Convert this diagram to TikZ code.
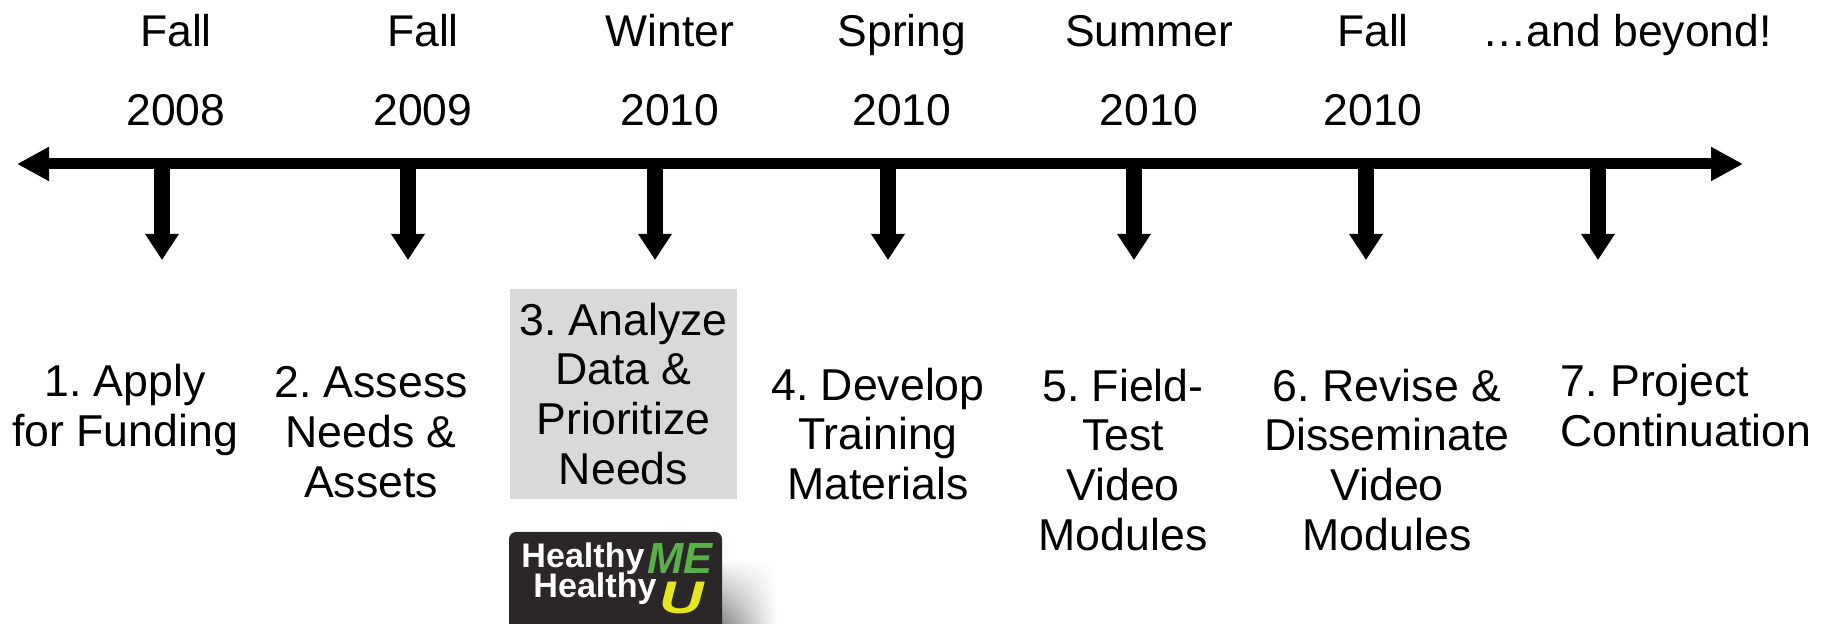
\documentclass[tikz,border=0pt]{standalone}
\usepackage{fontspec}
\setmainfont{Liberation Sans}
\usetikzlibrary{arrows.meta,fadings}
\definecolor{logodark}{HTML}{2B2627}
\definecolor{logogreen}{HTML}{5BAF4B}
\definecolor{logoyellow}{HTML}{E6E61E}
\frenchspacing
\begin{document}
\begin{tikzpicture}[auto,
    label/.style={font=\fontsize{12.7}{14.2}\selectfont,align=center,inner sep=0pt},
    datetext/.style={font=\fontsize{12.65}{14.2}\selectfont,anchor=base,inner sep=0pt},
    axisarrow/.style={{Triangle[length=3.2mm,width=3.2mm]}-{Triangle[length=3.2mm,width=3.2mm]},line width=1.1mm},
    downarrow/.style={-{Triangle[length=2.6mm,width=3.2mm]},line width=1.6mm}]
        \useasboundingbox (0,0) rectangle (18.3,6.24);

        \draw (1.76,5.77) node (seasonA) [datetext] {Fall};
        \draw (4.23,5.77) node (seasonB) [datetext] {Fall};
        \draw (6.70,5.77) node (seasonC) [datetext] {Winter};
        \draw (9.02,5.77) node (seasonD) [datetext] {Spring};
        \draw (11.49,5.77) node (seasonE) [datetext] {Summer};
        \draw (13.73,5.77) node (seasonF) [datetext] {Fall};
        \draw (16.27,5.77) node (seasonG) [datetext] {…and beyond!};

        \draw (1.76,4.98) node (yearA) [datetext] {2008};
        \draw (4.23,4.98) node (yearB) [datetext] {2009};
        \draw (6.70,4.98) node (yearC) [datetext] {2010};
        \draw (9.02,4.98) node (yearD) [datetext] {2010};
        \draw (11.49,4.98) node (yearE) [datetext] {2010};
        \draw (13.73,4.98) node (yearF) [datetext] {2010};

        \draw (0.17,4.60) coordinate (axisLeft);
        \draw (17.43,4.60) coordinate (axisRight);
        \draw (1.62,4.60) coordinate (tickA);
        \draw (4.08,4.60) coordinate (tickB);
        \draw (6.55,4.60) coordinate (tickC);
        \draw (8.88,4.60) coordinate (tickD);
        \draw (11.34,4.60) coordinate (tickE);
        \draw (13.66,4.60) coordinate (tickF);
        \draw (15.98,4.60) coordinate (tickG);
        \draw (1.62,3.64) coordinate (endA);
        \draw (4.08,3.64) coordinate (endB);
        \draw (6.55,3.64) coordinate (endC);
        \draw (8.88,3.64) coordinate (endD);
        \draw (11.34,3.64) coordinate (endE);
        \draw (13.66,3.64) coordinate (endF);
        \draw (15.98,3.64) coordinate (endG);

        \draw [axisarrow] (axisLeft) to (axisRight);
        \draw [downarrow] (tickA) to (endA);
        \draw [downarrow] (tickB) to (endB);
        \draw [downarrow] (tickC) to (endC);
        \draw [downarrow] (tickD) to (endD);
        \draw [downarrow] (tickE) to (endE);
        \draw [downarrow] (tickF) to (endF);
        \draw [downarrow] (tickG) to (endG);

        \draw (1.25,2.14) node (stepA) [label] {1. Apply\\for Funding};
        \draw (3.71,1.92) node (stepB) [label] {2. Assess\\Needs \&\\Assets};
        \draw (6.235,2.30) node (stepC) [label,fill=black!15,minimum width=2.27cm,minimum height=2.10cm] {3. Analyze\\Data \&\\Prioritize\\Needs};
        \draw (8.78,1.90) node (stepD) [label] {4. Develop\\Training\\Materials};
        \draw (11.23,1.64) node (stepE) [label] {5. Field-\\Test\\Video\\Modules};
        \draw (13.87,1.64) node (stepF) [label] {6. Revise \&\\Disseminate\\Video\\Modules};
        \draw (15.60,2.18) node (stepG) [label,align=left,anchor=west] {7. Project\\Continuation};

        % logo
        \draw (7.47,0.30) node (logoShadow) [minimum width=0.6cm,minimum height=0.72cm,left color=black!55,right color=white,path fading=north,inner sep=0pt] {};
        \draw (6.155,0.33) node (logo) [fill=logodark,rounded corners=2pt,minimum width=2.13cm,minimum height=1.18cm,inner sep=0pt] {};
        \draw (5.83,0.56) node (logoLineA) [text=white,font=\fontsize{9.7}{10}\selectfont\bfseries,inner sep=0pt,anchor=base] {Healthy};
        \draw (5.95,0.26) node (logoLineB) [text=white,font=\fontsize{9.7}{10}\selectfont\bfseries,inner sep=0pt,anchor=base] {Healthy};
        \draw (6.80,0.50) node (logoMe) [text=logogreen,font=\fontsize{12.4}{14}\selectfont\bfseries\itshape,inner sep=0pt,anchor=base] {ME};
        \draw (6.82,0.10) node (logoU) [text=logoyellow,font=\fontsize{13}{14}\selectfont\bfseries\itshape,inner sep=0pt,anchor=base,xscale=1.35] {U};
    \end{tikzpicture}
\end{document}
